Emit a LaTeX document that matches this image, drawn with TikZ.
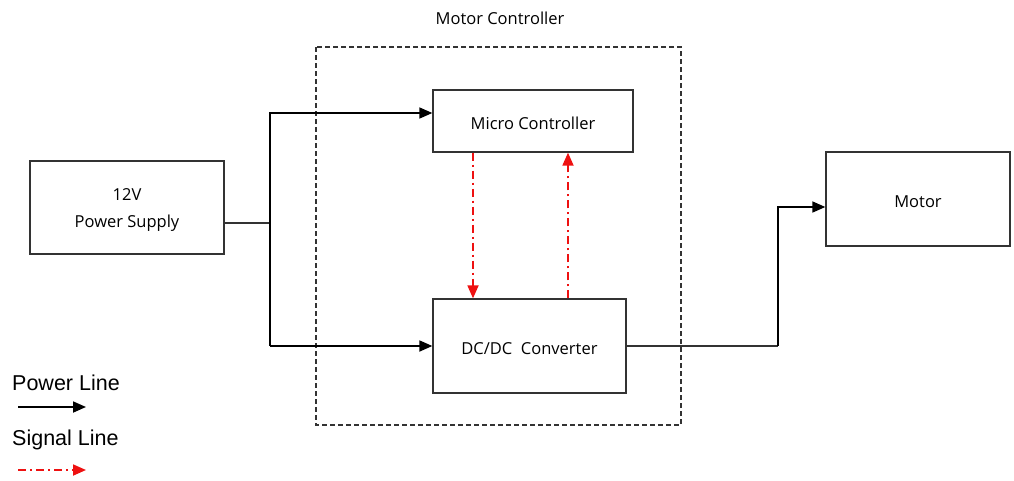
\documentclass[tikz,border=0pt]{standalone}
\usepackage{fontspec}
\setmainfont{Open Sans}
\newfontfamily\legendfont{Liberation Sans}
\usetikzlibrary{arrows.meta}
\definecolor{edge}{HTML}{333333}
\definecolor{sigred}{HTML}{EE1111}
\tikzset{
  blockbox/.style={draw=edge, line width=1.3pt, fill=white, inner sep=0pt},
  blocktext/.style={label={[font=\fontsize{16.5}{20}\selectfont, align=center, yshift=-2.5pt]center:#1}},
  tip/.style={-{Triangle[length=13pt,width=11pt]}},
  powerline/.style={draw=black, line width=1.8pt, tip},
  thinline/.style={draw=edge, line width=1.1pt},
  signalline/.style={draw=sigred, line width=1.8pt, dash pattern=on 8pt off 4pt on 2pt off 4pt, tip},
  legendtext/.style={font=\legendfont\fontsize{21.5}{24}\selectfont, anchor=west, inner sep=0pt},
}
\begin{document}
\begin{tikzpicture}[x=1pt,y=-1pt]
\useasboundingbox (0,0) rectangle (1014,480);

% controller enclosure
\draw[edge, line width=1.2pt, dash pattern=on 5pt off 3pt] (316,47) rectangle (681,425);
\node[font=\fontsize{16.5}{20}\selectfont] (title) at (500,18) {Motor Controller};

% blocks
\node[blockbox, minimum width=194pt, minimum height=93pt, blocktext={12V\\[7pt]Power Supply}] (psu) at (127,207.5) {};
\node[blockbox, minimum width=200pt, minimum height=62pt, blocktext={Micro Controller}] (mcu) at (533,121) {};
\node[blockbox, minimum width=193pt, minimum height=94pt, blocktext={DC/DC\ \ Converter}] (dcdc) at (529.5,346) {};
\node[blockbox, minimum width=184pt, minimum height=94pt, blocktext={Motor}] (motor) at (918,199) {};

% power distribution
\coordinate (split) at (270,223);
\coordinate (topturn) at (270,113);
\coordinate (botturn) at (270,346);
\coordinate (rise) at (778,346);
\coordinate (riseTop) at (778,207);
\draw[thinline] (psu.east |- split) -- (split);
\draw[powerline, line width=1.6pt] (split) -- (topturn) -- (mcu.west |- topturn);
\draw[black, line width=2.8pt] (split) -- (botturn);
\draw[powerline] (botturn) -- (dcdc.west |- botturn);
\draw[thinline] (dcdc.east |- rise) -- (rise);
\draw[powerline, line width=1.6pt] (rise) -- (riseTop) -- (motor.west |- riseTop);

% signals
\draw[signalline] (mcu.south -| 473,0) -- (dcdc.north -| 473,0);
\draw[signalline] (dcdc.north -| 568,0) -- (mcu.south -| 568,0);

% legend
\node[legendtext] (lp) at (12,383) {Power Line};
\coordinate (lpa) at (18,407);
\coordinate (lpb) at (86,407);
\draw[powerline] (lpa) -- (lpb);
\node[legendtext] (ls) at (12,440) {Signal Line};
\coordinate (lsa) at (18,470);
\coordinate (lsb) at (86,470);
\draw[signalline] (lsa) -- (lsb);
\end{tikzpicture}
\end{document}
